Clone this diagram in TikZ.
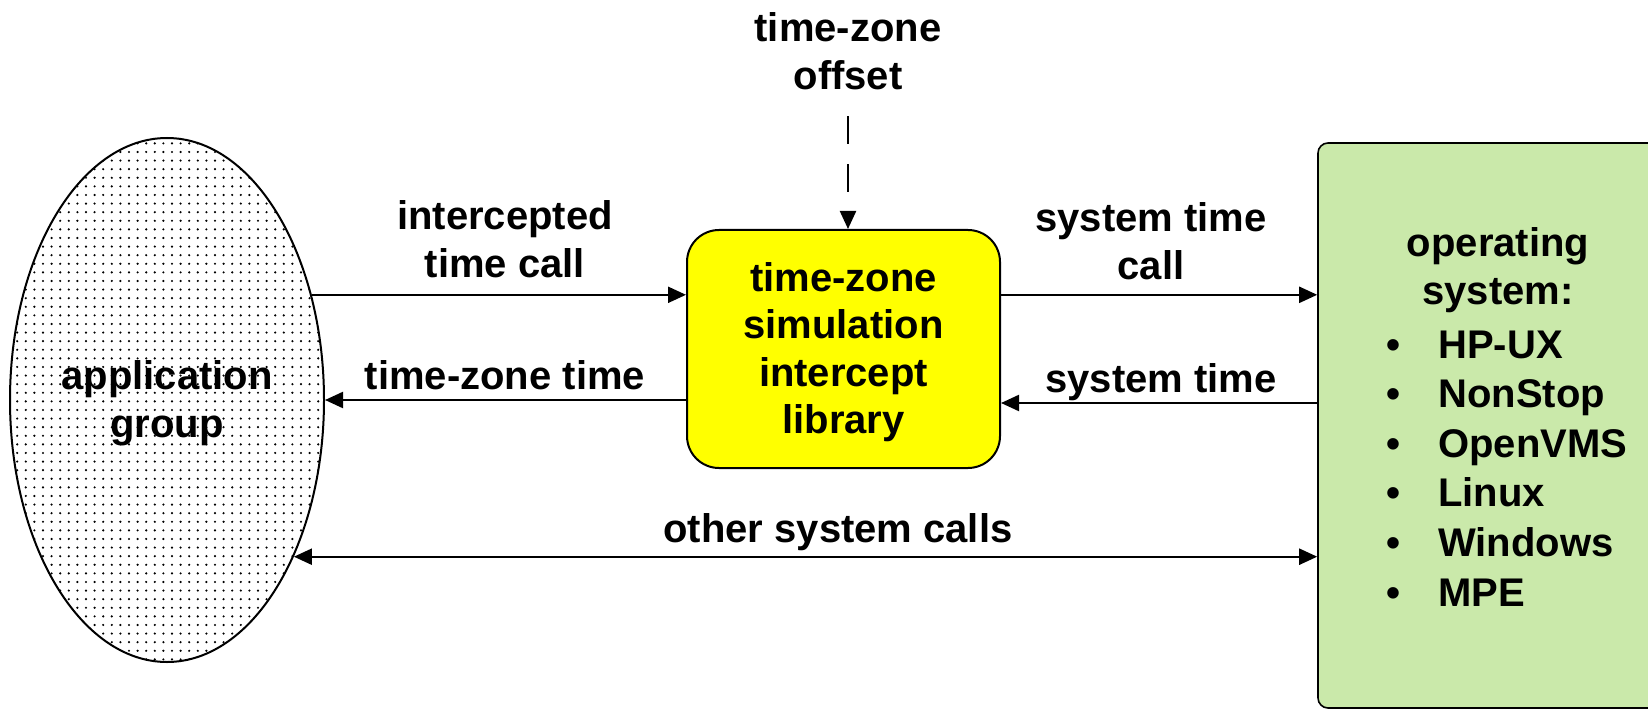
\documentclass[tikz,border=0pt]{standalone}
\usepackage{fontspec}
\setmainfont{Liberation Sans}
\usetikzlibrary{arrows.meta,shapes.geometric,patterns.meta}
\definecolor{libyellow}{RGB}{255,255,0}
\definecolor{osgreen}{RGB}{202,233,170}

\begin{document}
\begin{tikzpicture}[x=0.5pt,y=-0.5pt, >={Triangle[length=9pt,width=8pt]},
    txt/.style={font=\fontsize{20}{24}\selectfont\bfseries, align=center, inner sep=0pt},
    arr/.style={line width=1.1pt, ->},
  ]
  \useasboundingbox (0,0) rectangle (1648,711);
  \clip (0,0) rectangle (1648,711);

  % blocks
  \node[ellipse, draw, line width=1pt, pattern={Dots[distance=4.3pt,radius=0.6pt]},
        minimum width=157pt, minimum height=262pt, txt] (app) at (167,400) {\rule{0pt}{17.5pt}application\\group};
  \node[draw, line width=1pt, fill=libyellow, rounded corners=16pt, minimum width=156.5pt,
        minimum height=119pt, txt, font=\fontsize{20}{23.65}\selectfont\bfseries] (lib) at (843.5,349)
        {\rule{0pt}{17.5pt}time-zone\\simulation\\intercept\\library};
  \node[draw, line width=0.8pt, fill=osgreen, rounded corners=5pt, minimum width=181pt,
        minimum height=282.5pt] (os) at (1499,425.5) {};

  % os list
  \node[txt] (ostitle) at (1498,270) {operating\\system:};
  \foreach \osname [count=\i] in {HP-UX,NonStop,OpenVMS,Linux,Windows,MPE} {
    \node[txt, anchor=base west] (ositem\i) at (1438,{358+49.6*(\i-1)}) {\osname};
    \node[txt, anchor=base] (osdot\i) at (1393,{358+49.6*(\i-1)}) {\textbullet};
  }

  % labels
  \node[txt] (offset) at (848,51) {time-zone\\offset};
  \node[txt] (callin) at (505,239) {intercepted\\time call};
  \node[txt] (tztime) at (505,375) {time-zone time};
  \node[txt] (callout) at (1151,241) {system time\\call};
  \node[txt] (systime) at (1161,382) {system time};
  \node[txt] (other) at (838,532) {other system calls};

  % arrows
  \draw[arr, dash pattern=on 14pt off 10pt, shorten <=13pt] (offset.south) -- (offset.south |- lib.north);
  \draw[arr] (app.36.1) -- (app.36.1 -| lib.west);
  \draw[arr] (lib.west |- app.east) -- (app.east);
  \draw[arr] (lib.east |- app.36.1) -- (os.west |- app.36.1);
  \draw[arr] (os.west |- 0,403) -- (lib.east |- 0,403);
  \draw[arr, <->] (app.-51.3) -- (os.west |- app.-51.3);

\end{tikzpicture}
\end{document}
